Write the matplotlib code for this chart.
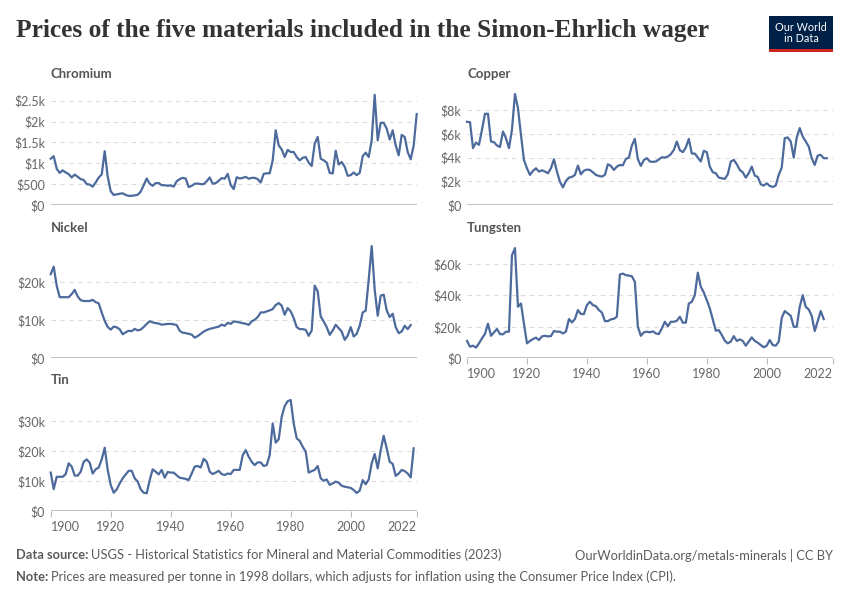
import matplotlib
matplotlib.use("Agg")
import matplotlib.pyplot as plt
from matplotlib.patches import Rectangle

# values (USD per tonne, 1998 dollars)
chromium_years = list(range(1900, 2023))
chromium = [1110, 1170, 870, 770, 830, 780, 740, 660, 730, 675,
            620, 600, 500, 490, 440, 540, 660, 730, 1290, 680,
            330, 240, 255, 270, 280, 240, 220, 220, 230, 245,
            320, 475, 635, 510, 460, 525, 525, 475, 475, 460,
            470, 440, 570, 620, 650, 635, 430, 460, 510, 515,
            500, 500, 570, 660, 510, 525, 580, 645, 630, 745,
            480, 380, 665, 635, 650, 675, 630, 650, 650, 620,
            540, 745, 760, 760, 1070, 1790, 1430, 1330, 1150, 1320,
            1270, 1270, 1150, 1070, 1130, 1150, 1015, 935, 1470, 1630,
            1110, 1070, 1015, 770, 755, 1300, 970, 1030, 915, 700,
            715, 780, 715, 770, 1170, 1255, 1150, 1550, 2640, 1550,
            1970, 1970, 1830, 1570, 1790, 1430, 1190, 1680, 1630, 1270,
            1095, 1430, 2180]

copper_years = list(range(1900, 2021))
copper = [7020, 6990, 4800, 5270, 5080, 6350, 7700, 7700, 5360, 5300,
          5020, 4900, 6200, 5640, 4800, 6350, 9360, 8180, 5920, 3800,
          3100, 2540, 2880, 3100, 2820, 2930, 2820, 2680, 3100, 3860,
          2820, 1970, 1490, 2030, 2310, 2370, 2540, 3330, 2590, 2900,
          2990, 2960, 2760, 2540, 2450, 2400, 2540, 3440, 3300, 2960,
          3240, 3380, 3350, 3890, 4000, 5020, 5580, 3860, 3300, 3800,
          3950, 3670, 3640, 3670, 3840, 4030, 4000, 4090, 4290, 4650,
          5360, 4620, 4460, 4850, 5580, 4340, 4340, 4000, 3670, 4570,
          4460, 3240, 2760, 2680, 2310, 2260, 2200, 2590, 3670, 3800,
          3440, 2960, 2760, 2310, 2680, 3240, 2480, 2370, 1750, 1640,
          1830, 1610, 1520, 1640, 2540, 3160, 5640, 5700, 5360, 4000,
          5700, 6490, 5780, 5360, 4940, 3950, 3380, 4170, 4230, 3950,
          3950]

nickel_years = list(range(1900, 2021))
nickel = [22000, 24000, 19000, 16000, 16000, 16000, 16000, 16800, 17900, 16200,
          15200, 15000, 15000, 15000, 15300, 14700, 14400, 12000, 9800, 8200,
          7500, 8300, 8100, 7600, 6300, 6800, 7200, 7100, 7700, 7300,
          7500, 8200, 9000, 9700, 9400, 9200, 9100, 8800, 8900, 9000,
          9000, 8900, 8700, 7200, 6700, 6600, 6400, 6200, 5400, 5800,
          6400, 7000, 7400, 7700, 7900, 8100, 8300, 8800, 8500, 9300,
          9030, 9650, 9560, 9380, 9200, 9030, 8770, 9650, 10090, 10790,
          12010, 12010, 12280, 12540, 12890, 13940, 14470, 13770, 11400, 13150,
          12280, 10520, 8160, 7630, 7630, 7450, 5880, 7280, 19030, 17540,
          10960, 9650, 8160, 6140, 7280, 8770, 7890, 7020, 4820, 5960,
          8160, 5700, 6400, 8510, 12010, 12450, 20610, 29380, 17980, 11140,
          16400, 16660, 12540, 10790, 11660, 8160, 6580, 7020, 8510, 7630,
          8680]

tungsten_years = list(range(1900, 2020))
tungsten = [11000, 7400, 8000, 6800, 9500, 12700, 15500, 22000, 14300, 16500,
            18600, 15400, 15200, 16900, 16900, 65400, 70000, 32700, 34800, 22000,
            9500, 11000, 12200, 13100, 11600, 13900, 14300, 13900, 14100, 17300,
            16900, 16900, 15800, 16900, 24900, 22800, 24900, 30600, 28100, 28100,
            33800, 35900, 33800, 33100, 30600, 29100, 23600, 23600, 24700, 25100,
            26400, 53200, 53800, 52800, 52500, 52100, 48500, 20000, 14300, 16500,
            16900, 16500, 17100, 15800, 15400, 19000, 23200, 20300, 23200, 23200,
            23800, 26400, 22600, 22600, 34800, 35900, 40100, 54400, 45400, 41800,
            36900, 31700, 24700, 17500, 17900, 14800, 11200, 9500, 10600, 14100,
            11000, 12000, 11000, 8000, 10600, 13300, 11000, 9900, 8400, 7000,
            8000, 11600, 8400, 8000, 10600, 25700, 30000, 28500, 27000, 20000,
            20000, 32700, 40100, 32700, 31000, 27000, 17300, 23600, 30000, 24900]

tin_years = list(range(1900, 2022))
tin = [12800, 7300, 11400, 11400, 11400, 12300, 15900, 14800, 11800, 11800,
       13100, 16400, 17200, 16100, 12500, 13900, 14500, 17200, 21100, 13700,
       8700, 6100, 7200, 9200, 10900, 12200, 13400, 13400, 10900, 9800,
       7200, 6100, 5900, 10300, 13900, 13100, 12200, 13700, 11100, 13000,
       12800, 12800, 11900, 11100, 10900, 10700, 10300, 12500, 14800, 15000,
       14500, 17400, 16400, 13100, 12300, 12800, 13400, 12300, 12000, 12500,
       12300, 13700, 13700, 13700, 18600, 20300, 18100, 16400, 15300, 16200,
       16200, 15000, 15300, 18600, 29200, 22800, 23900, 31400, 35000, 36600,
       37000, 29200, 24200, 23400, 21400, 19800, 12800, 13300, 13700, 15000,
       10900, 10100, 10500, 8700, 9200, 9800, 9400, 8400, 8100, 7900,
       7700, 7000, 6000, 6800, 10300, 8900, 10500, 15900, 19000, 14200,
       20300, 25100, 20900, 16400, 15700, 11700, 12500, 13700, 13300, 12500,
       11200, 20900]

chromium_ticks = [0, 500, 1000, 1500, 2000, 2500]
chromium_labels = ["$0", "$500", "$1k", "$1.5k", "$2k", "$2.5k"]
copper_ticks = [0, 2000, 4000, 6000, 8000]
copper_labels = ["$0", "$2k", "$4k", "$6k", "$8k"]
nickel_ticks = [0, 10000, 20000]
nickel_labels = ["$0", "$10k", "$20k"]
tungsten_ticks = [0, 20000, 40000, 60000]
tungsten_labels = ["$0", "$20k", "$40k", "$60k"]
tin_ticks = [0, 10000, 20000, 30000]
tin_labels = ["$0", "$10k", "$20k", "$30k"]

year_ticks = [1900, 1920, 1940, 1960, 1980, 2000, 2022]

W, H = 850, 600
LINE = "#4c6a9c"
GREY = "#666666"
plt.rcParams["font.family"] = ["Lato", "DejaVu Sans"]

fig = plt.figure(figsize=(8.5, 6), dpi=100)


def make_panel(left, right, top, bottom, ymax, name, years, values, ticks, labels, show_years):
    ax = fig.add_axes([left / W, 1 - bottom / H, (right - left) / W, (bottom - top) / H])
    ax.plot(years, values, color=LINE, lw=1.6, solid_joinstyle="round", clip_on=False, zorder=3)
    ax.set_xlim(1900, 2022)
    ax.set_ylim(0, ymax)
    for s in ax.spines.values():
        s.set_visible(False)
    ax.set_yticks(ticks)
    ax.set_yticklabels(labels)
    ax.tick_params(axis="y", length=0, pad=4, labelsize=9, labelcolor=GREY)
    for t in ticks[1:]:
        ax.axhline(t, color="#dddddd", lw=0.8, ls=(0, (4, 4)), zorder=1)
    ax.axhline(0, color="#bbbbbb", lw=1.3, zorder=2)
    if show_years:
        ax.set_xticks(year_ticks)
        ax.set_xticklabels([str(y) for y in year_ticks])
        ax.tick_params(axis="x", length=4, width=0.8, color="#bbbbbb", pad=3,
                       labelsize=9, labelcolor=GREY)
        lbls = ax.get_xticklabels()
        lbls[0].set_ha("left")
        lbls[-1].set_ha("right")
    else:
        ax.set_xticks([])
    fig.text(left / W, 1 - (top - 17.5) / H, name, fontsize=9.5, fontweight="bold",
             color="#555555", va="center", ha="left")
    return ax


make_panel(50.7, 416.7, 92, 205, 2708, "Chromium", chromium_years, chromium,
           chromium_ticks, chromium_labels, False)
make_panel(467, 832.7, 92, 205, 9536, "Copper", copper_years, copper,
           copper_ticks, copper_labels, False)
make_panel(50.7, 416.7, 245, 358.3, 29660, "Nickel", nickel_years, nickel,
           nickel_ticks, nickel_labels, False)
make_panel(467, 832.7, 245, 358.3, 71940, "Tungsten", tungsten_years, tungsten,
           tungsten_ticks, tungsten_labels, True)
make_panel(50.7, 416.7, 398, 511, 37670, "Tin", tin_years, tin,
           tin_ticks, tin_labels, True)

# title
fig.text(16 / W, 1 - 31 / H, "Prices of the five materials included in the Simon-Ehrlich wager",
         family=["Liberation Serif", "DejaVu Serif"], fontsize=18.3, fontweight="bold",
         color="#333333", va="center", ha="left")

# logo
fig.patches.append(Rectangle((769 / W, 1 - 52 / H), 64 / W, 36 / H, transform=fig.transFigure,
                             facecolor="#002147", edgecolor="none"))
fig.patches.append(Rectangle((769 / W, 1 - 52 / H), 64 / W, 3 / H, transform=fig.transFigure,
                             facecolor="#ce261e", edgecolor="none"))
fig.text(801 / W, 1 - 33 / H, "Our World\nin Data", color="white", fontsize=7.8,
         ha="center", va="center", linespacing=1.0)


def footer(x, y, bold, rest):
    t = fig.text(x / W, 1 - y / H, bold, fontsize=9.3, fontweight="bold", color="#5b5b5b",
                 va="center", ha="left")
    bb = t.get_window_extent(renderer=fig.canvas.get_renderer())
    fig.text(bb.x1 / W + 3 / W, 1 - y / H, rest, fontsize=9.3, color="#5b5b5b",
             va="center", ha="left")


footer(16, 555, "Data source:", "USGS - Historical Statistics for Mineral and Material Commodities (2023)")
footer(16, 577, "Note:", "Prices are measured per tonne in 1998 dollars, which adjusts for inflation using the Consumer Price Index (CPI).")
fig.text(833 / W, 1 - 555 / H, "OurWorldinData.org/metals-minerals | CC BY", fontsize=9.3,
         color="#5b5b5b", va="center", ha="right")

fig.savefig("out.png", dpi=100, facecolor="white")
